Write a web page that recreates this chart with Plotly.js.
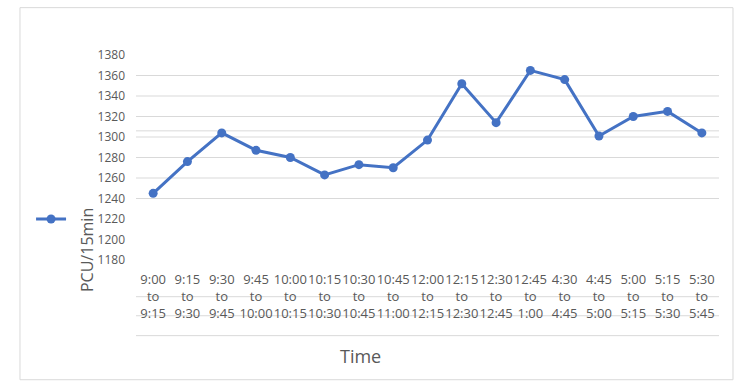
<!DOCTYPE html>
<html>
<head>
<meta charset="utf-8">
<script src="https://cdn.plot.ly/plotly-3.0.1.min.js"></script>
<style>
html,body{margin:0;padding:0;background:#fff;}
#chart{width:749px;height:390px;}
</style>
</head>
<body>
<div id="chart"></div>
<script>
const startTimes = ["9:00","9:15","9:30","9:45","10:00","10:15","10:30","10:45","12:00","12:15","12:30","12:45","4:30","4:45","5:00","5:15","5:30"];
const endTimes   = ["9:15","9:30","9:45","10:00","10:15","10:30","10:45","11:00","12:15","12:30","12:45","1:00","4:45","5:00","5:15","5:30","5:45"];
const pcuValues  = [1245,1276,1304,1287,1280,1263,1273,1270,1297,1352,1314,1365,1356,1301,1320,1325,1304];
const yTickVals  = [1180,1200,1220,1240,1260,1280,1300,1320,1340,1360,1380];
const gridVals   = [1240,1260,1280,1300,1306,1320,1340,1360];

const categories = startTimes.map((s,i)=>i);
const tickText = startTimes.map((s,i)=>s+"<br>to<br>"+endTimes[i]);

const gray = "#595959";
const lineGray = "#D9D9D9";
const font = "Open Sans, Calibri, Arial, sans-serif";

const trace = {
  x: categories,
  y: pcuValues,
  type: "scatter",
  mode: "lines+markers",
  name: " ",
  line: {color: "#4472C4", width: 3},
  marker: {color: "#4472C4", size: 9},
  hoverinfo: "skip"
};

const shapes = [
  {type: "rect", xref: "paper", yref: "paper", x0: -0.199, x1: 1.024, y0: -0.584, y1: 1.231, line: {color: lineGray, width: 1}, fillcolor: "rgba(0,0,0,0)", layer: "below"},
  {type: "line", xref: "paper", yref: "paper", x0: 0, x1: 1, y0: -0.179, y1: -0.179, line: {color: lineGray, width: 1}, layer: "below"},
  {type: "line", xref: "paper", yref: "paper", x0: 0, x1: 1, y0: -0.272, y1: -0.272, line: {color: lineGray, width: 1}, layer: "below"},
  {type: "line", xref: "paper", yref: "paper", x0: 0, x1: 1, y0: -0.369, y1: -0.369, line: {color: lineGray, width: 1}, layer: "below"}
];
gridVals.forEach(v => shapes.push({type: "line", xref: "paper", yref: "y", x0: 0, x1: 1, y0: v, y1: v, line: {color: lineGray, width: 1}, layer: "below"}));

const layout = {
  width: 749, height: 390,
  paper_bgcolor: "#fff", plot_bgcolor: "rgba(0,0,0,0)",
  margin: {l: 136, r: 30, t: 55, b: 130, autoexpand: false},
  font: {family: font, color: gray, size: 12},
  showlegend: true,
  legend: {x: -0.18, xanchor: "left", y: 0.2, yanchor: "middle", bgcolor: "rgba(0,0,0,0)", font: {size: 12}},
  xaxis: {
    range: [-0.5, 16.5],
    tickmode: "array", tickvals: categories, ticktext: tickText,
    tickangle: 0,
    tickfont: {size: 13, color: gray, family: font},
    showgrid: false, zeroline: false, showline: false, ticks: "",
    ticklabelstandoff: 10,
    fixedrange: true
  },
  yaxis: {
    range: [1180, 1380],
    tickmode: "array", tickvals: yTickVals,
    tickfont: {size: 12, color: gray, family: font},
    showgrid: false, zeroline: false, showline: false, ticks: "",
    ticklabelstandoff: 10,
    fixedrange: true
  },
  shapes: shapes,
  annotations: [
    {text: "Time", xref: "paper", yref: "paper", x: (360-136)/583, y: (260-356)/205, xanchor: "center", yanchor: "middle", showarrow: false, font: {size: 18, color: gray, family: font}},
    {text: "PCU/15min", xref: "paper", yref: "paper", x: (87-136)/583, y: (260-250)/205, xanchor: "center", yanchor: "middle", textangle: -90, showarrow: false, font: {size: 16, color: gray, family: font}}
  ]
};

Plotly.newPlot("chart", [trace], layout, {displayModeBar: false, staticPlot: true});
</script>
</body>
</html>
